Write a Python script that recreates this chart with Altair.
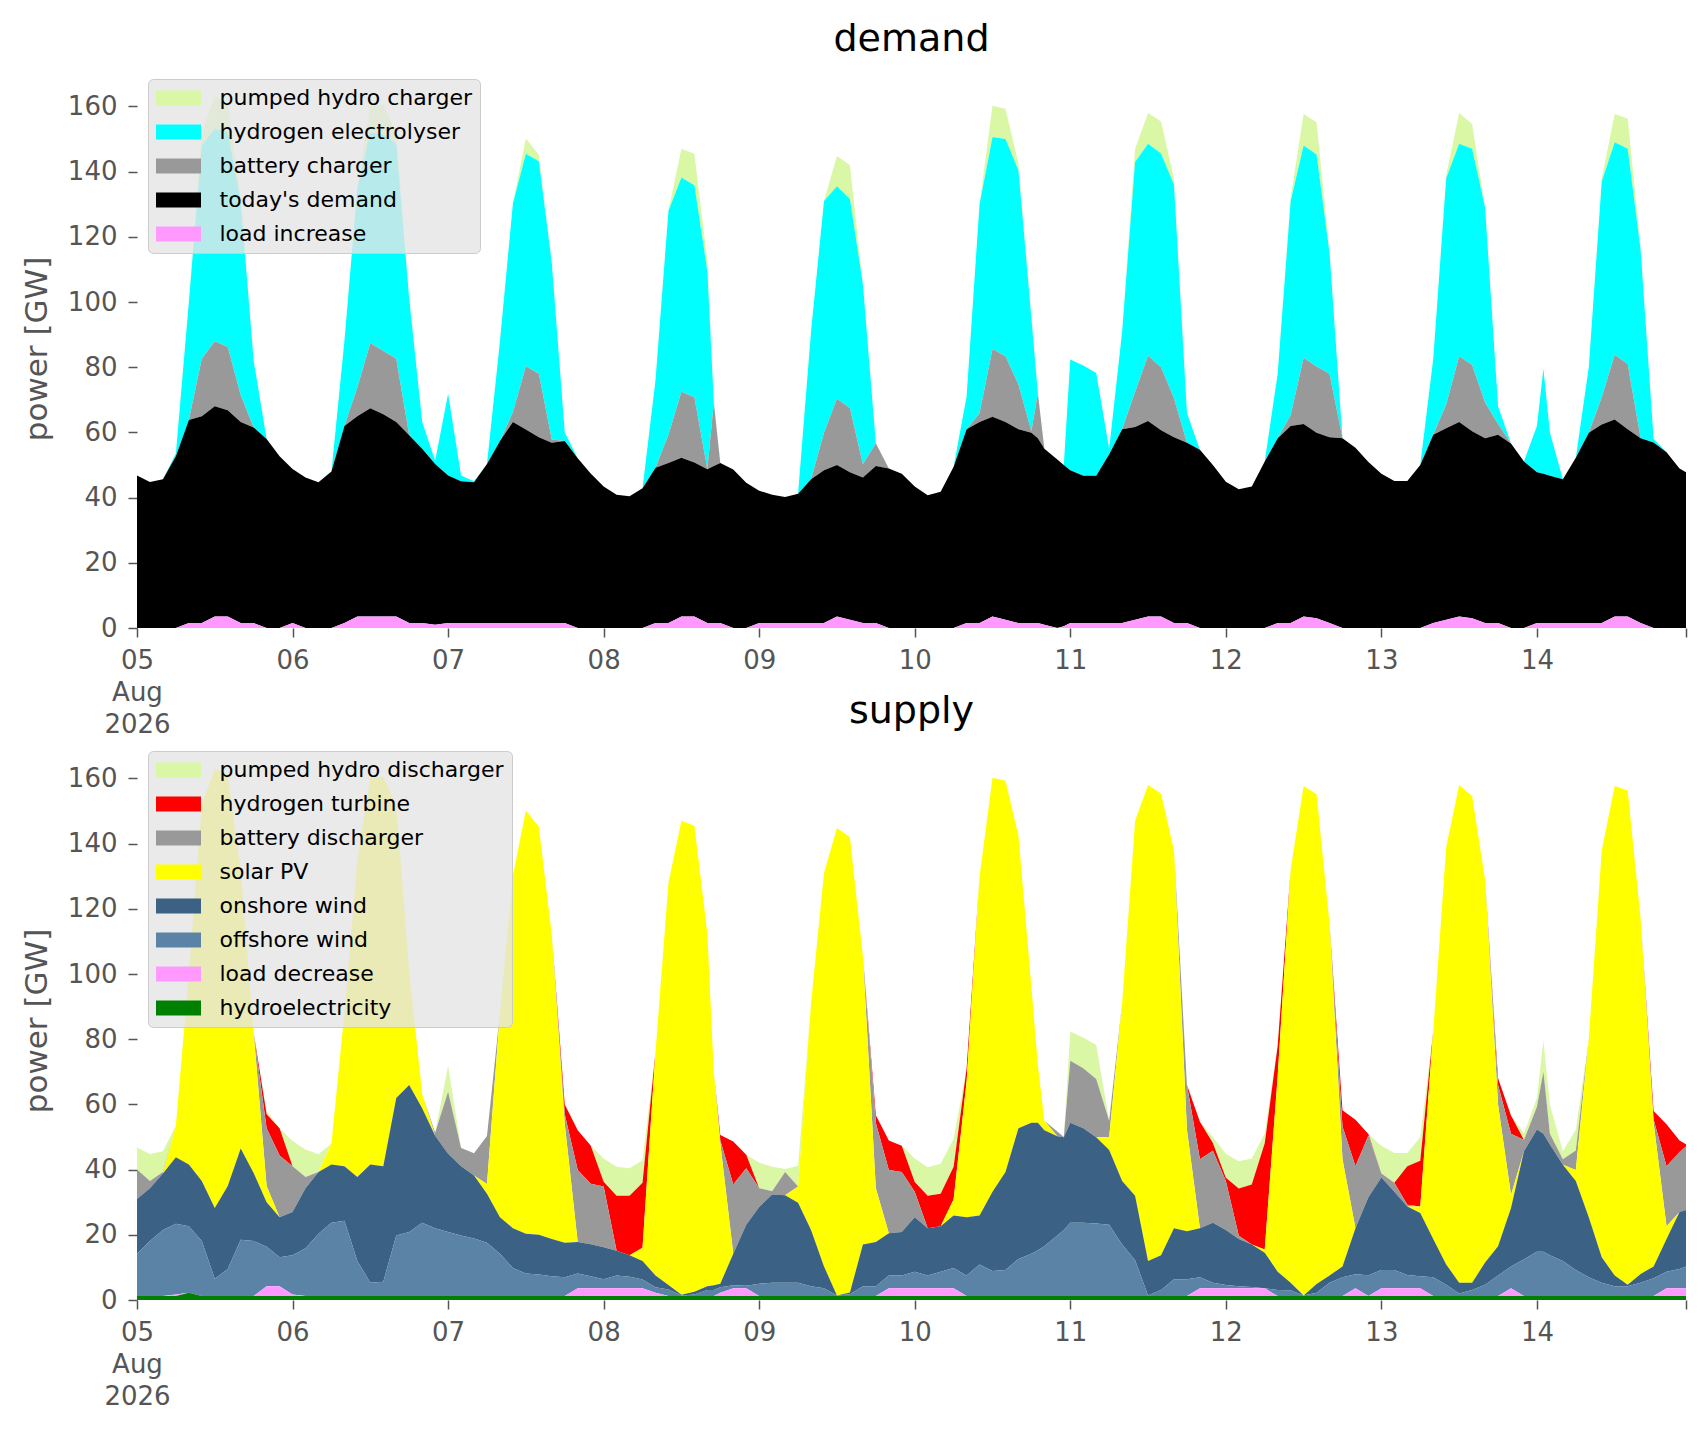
import altair as alt
import pandas as pd

# ---------------- data (GW), sampled every 2 h from 05 Aug 2026 00:00 UTC,
# with a few extra hourly readings (08 Aug 17:00, 10 Aug 19:00 & 23:00, 14 Aug 01:00 & 23:00) ----------------
regular = list(range(0, 24, 2))
day_hours = {
    3: [0, 2, 4, 6, 8, 10, 12, 14, 16, 17, 18, 20, 22],
    5: [0, 2, 4, 6, 8, 10, 12, 14, 16, 18, 19, 20, 22, 23],
    9: [0, 1, 2, 4, 6, 8, 10, 12, 14, 16, 18, 20, 22, 23],
}
sample_hours = [d * 24 + h for d in range(10) for h in day_hours.get(d, regular)]

# demand side
load_increase = [
    0, 0, 0, 0, 1.5, 1.5, 3.5, 3.5, 1.5, 1.5, 0, 0,
    1.5, 0, 0, 0, 1.5, 3.5, 3.5, 3.5, 3.5, 1.5, 1.5, 1,
    1.5, 1.5, 1.5, 1.5, 1.5, 1.5, 1.5, 1.5, 1.5, 1.5, 0, 0,
    0, 0, 0, 0, 1.5, 1.5, 3.5, 3.5, 1.5, 1.5, 1.5, 0, 0,
    1.5, 1.5, 1.5, 1.5, 1.5, 1.5, 3.5, 2.5, 1.5, 1.5, 0, 0,
    0, 0, 0, 0, 1.5, 1.5, 3.5, 2.5, 1.5, 1.5, 1.5, 1, 0, 0.5,
    1.5, 1.5, 1.5, 1.5, 1.5, 2.5, 3.5, 3.5, 1.5, 1.5, 0, 0,
    0, 0, 0, 0, 1.5, 1.5, 3.5, 3, 1.5, 0, 0, 0,
    0, 0, 0, 0, 1.5, 2.5, 3.5, 3, 1.5, 1.5, 0, 0,
    1.5, 1.5, 1.5, 1.5, 1.5, 1.5, 1.5, 3.5, 3.5, 1.5, 0, 0, 0, 0,
]
todays_demand = [
    46.8, 44.8, 45.6, 52.7, 62.3, 63.5, 64.5, 63.3, 61.7, 60, 58, 52.7,
    47.3, 46.2, 44.7, 48, 60.5, 61.5, 63.9, 62.1, 59.7, 57.6, 53.5, 49.3,
    45.3, 43.5, 43.2, 48.8, 55.9, 61.7, 59.4, 57, 55.3, 55.9, 52.1, 47.4,
    43.4, 40.9, 40.4, 42.9, 47.7, 49.1, 48.7, 47.3, 47.2, 48.2, 49.1, 48.6, 44.6,
    40.6, 39.4, 38.7, 39.7, 44.1, 46.9, 46.5, 45.3, 44.7, 48.2, 48.9, 47.3,
    43.4, 40.7, 41.8, 49.5, 59.5, 61.7, 61.3, 60.7, 59.5, 58.4, 56.7, 54, 51.7, 49.5,
    46.9, 45.2, 45.2, 51.8, 59.5, 59.2, 60, 57.2, 57, 55.3, 54.7, 50,
    44.9, 42.6, 43.4, 51.1, 56.7, 60.5, 59.1, 56.9, 57, 58.2, 55.3, 50.9,
    47.3, 45.1, 45.1, 50, 57.8, 58.8, 59.7, 57.4, 56.7, 57.8, 56.6, 51.1,
    46.3, 45.8, 45.2, 44.1, 50.7, 58.4, 60.9, 60.5, 57.5, 56.7, 56.9, 53.9, 48.9, 47.8,
]
battery_charger = [
    0, 0, 0, 0, 0, 17.6, 20, 19.4, 8.3, 0, 0, 0,
    0, 0, 0, 0, 0, 8.8, 20, 19.4, 19.4, 0, 0, 0,
    0, 0, 0, 0, 0, 3, 19.4, 19.5, 1, 0, 0, 0,
    0, 0, 0, 0, 0, 8.7, 20.3, 20, 0, 19.5, 0, 0, 0,
    0, 0, 0, 0, 0, 11.5, 20.3, 19.7, 4, 7, 0, 0,
    0, 0, 0, 0, 0, 2.7, 20.8, 20.2, 13.7, 0.5, 13.8, 0, 0, 0,
    0, 0, 0, 0, 0, 10.8, 20, 19.3, 12, 0, 0, 0,
    0, 0, 0, 0, 0, 3.3, 20.3, 20.3, 19.5, 0, 0, 0,
    0, 0, 0, 0, 0, 7.3, 20.2, 20.3, 11, 3.3, 0, 0,
    0, 0, 0, 0, 0, 0, 8.4, 19.8, 20, 0, 0, 0, 0, 0,
]
hydrogen_electrolyser = [
    0, 0, 0, 0.8, 36.2, 65.4, 65.2, 66, 59.5, 20.5, 0, 0,
    0, 0, 0, 0, 26, 61.2, 64.6, 66.4, 66, 41.9, 8.3, 1,
    25.1, 1.8, 0.3, 0, 30.6, 64, 65.2, 65.2, 54.2, 2.6, 0, 0,
    0, 0, 0, 0, 26.8, 68.7, 65.7, 65, 60.8, 0, 0, 0, 0,
    0, 0, 0, 0, 45.4, 71.1, 65.2, 64.1, 55.3, 0, 0, 0,
    0, 0, 0, 0, 10, 64.1, 65, 66.6, 65.7, 34.6, 0, 0, 0, 0,
    34, 33.8, 31.5, 1.7, 30, 70.5, 65.1, 65.6, 65.5, 9.2, 0, 0,
    0, 0, 0, 0, 19.8, 65.7, 65.1, 65.1, 37, 0, 0, 0,
    0, 0, 0, 0, 23.2, 69.4, 65.2, 66.3, 59.8, 5.4, 0, 0,
    14.2, 32.2, 13.3, 0, 0, 20.1, 66.2, 65.2, 66, 57.8, 1.1, 0, 0, 0,
]
pumped_hydro_charger = [
    0, 0, 0, 0, 0, 4, 9.8, 8.8, 1, 0, 0, 0,
    0, 0, 0, 0, 0, 0, 8.2, 9.2, 3, 0, 0, 0,
    0, 0, 0, 0, 0, 0, 4.7, 2, 0, 0, 0, 0,
    0, 0, 0, 0, 0, 0, 8.8, 9.7, 3, 0.5, 0, 0, 0,
    0, 0, 0, 0, 0, 0, 9.3, 10.4, 0, 0, 0, 0,
    0, 0, 0, 0, 0, 0, 9.6, 9.3, 2.2, 1, 0, 0, 0, 0,
    0, 0, 0, 0, 0, 4, 9.4, 9.8, 2, 0, 0, 0,
    0, 0, 0, 0, 0, 1, 9.7, 9.9, 0.5, 0, 0, 0,
    0, 0, 0, 0, 0, 1, 9.4, 7.6, 0, 0, 0, 0,
    0, 0, 0, 0, 0, 0, 1, 8.7, 9.3, 1, 0, 0, 0, 0,
]

# supply side
hydroelectricity = [1.2] * 4 + [2.2] + [1.2] * 120
load_decrease = [
    0, 0, 0, 0.5, 0, 0, 0, 0, 0, 0, 3, 3,
    0.5, 0, 0, 0, 0, 0, 0, 0, 0, 0, 0, 0,
    0, 0, 0, 0, 0, 0, 0, 0, 0, 0, 2.4, 2.4,
    2.4, 2.4, 2.4, 2.4, 1, 0, 0, 0, 0, 0, 1, 2.4, 2.4,
    0, 0, 0, 0, 0, 0, 0, 0, 0, 0, 2.4, 2.4,
    2.4, 2.4, 2.4, 2.4, 0, 0, 0, 0, 0, 0, 0, 0, 0, 0,
    0, 0, 0, 0, 0, 0, 0, 0, 0, 0, 2.4, 2.4,
    2.4, 2.4, 2.4, 2.4, 0, 0, 0, 0, 0, 0, 2.4, 0,
    2.4, 2.4, 2.4, 2.4, 0, 0, 0, 0, 0, 0, 2.4, 0,
    0, 0, 0, 0, 0, 0, 0, 0, 0, 0, 0, 2.4, 2.4, 2.4,
]
offshore_wind = [
    13, 16.9, 20.3, 21.7, 20.4, 16.9, 5.3, 8.3, 17.3, 16.9, 12.1, 8.9,
    12, 14.7, 19.1, 22.5, 23.1, 10.8, 4.1, 4.4, 18.6, 19.7, 22.5, 20.8,
    19.7, 18.6, 17.7, 16.4, 13, 8.6, 6.9, 6.6, 6.1, 5.8, 4.5, 3.7,
    2.8, 3.9, 3.5, 2.7, 1.7, 2, 0.2, 0.5, 1.9, 1.9, 1.7, 0.9, 0.8,
    3.8, 4.1, 4.1, 4.1, 3, 2.4, 0.2, 0.6, 3, 3, 3.9, 3.9,
    5.1, 3.9, 5.1, 6.2, 6.3, 9.7, 7.7, 8, 11.4, 13, 14.1, 15.3, 18.6, 20.3,
    22.5, 22.5, 22.3, 21.9, 15.8, 11, 0.2, 1.9, 5.2, 5.2, 3.4, 1.7,
    1, 0.6, 0.4, 0, 1.9, 1.8, 0.2, 1, 4.1, 5.8, 4.3, 6.4,
    5.6, 5.6, 4.1, 3.7, 5.8, 3.5, 0.8, 1.9, 3.5, 6.3, 6.7, 11.3,
    13.6, 13.6, 12.5, 10.8, 8, 5.8, 4.1, 3, 3, 4.1, 5.5, 5.1, 5.9, 6.7,
]
onshore_wind = [
    16.8, 16.2, 17.3, 20.4, 19, 18.4, 21.7, 25.5, 28, 20.9, 13.7, 12.3,
    13.3, 18.4, 19, 17.9, 16.7, 25.7, 36.3, 35.4, 42.2, 45.1, 35.1, 28.4,
    24, 21.2, 19.3, 15, 11.2, 12.2, 12.2, 12.2, 11.4, 10.6, 9.7, 9.8,
    9.8, 7.6, 6.6, 5.7, 3.6, 1.4, 0.2, 0.8, 1.1, 1.4, 1.1, 9.7, 18.7,
    23.5, 27.1, 26.8, 24.5, 17.3, 6.7, 0, 0.5, 12.8, 13.6, 13, 13.4,
    16.7, 14.5, 13.9, 16.1, 17.9, 15, 24.3, 30.1, 40.1, 40.2, 39.1, 35.6, 30.4, 28.4,
    30.7, 29, 26.4, 22.9, 19.5, 19.8, 10.6, 10.6, 15.6, 14.7, 15, 18.4,
    16.9, 14.5, 13, 10.9, 5.6, 2.3, 0, 2.7, 2.2, 3.3, 14.1, 23.9,
    28.4, 24, 21, 19.4, 11.7, 6.2, 3.3, 2.2, 6.8, 9, 17.9, 33.1,
    37.5, 36.2, 34, 29.5, 27.3, 18.4, 7.8, 3.3, 0.5, 2.7, 3.6, 10, 17.5, 17.3,
]
solar_pv = [
    0, 0, 0, 9.7, 58.4, 115.5, 134.8, 126, 85.5, 43, 5, 0,
    0, 0, 0, 6.4, 47, 97.3, 118.6, 119.6, 89.6, 35, 4.5, 0,
    0, 0, 0, 3, 62.6, 108.2, 129.9, 125.2, 93.3, 36.4, 0, 0,
    0, 0, 0, 4, 68.5, 123.4, 145.4, 143, 108.3, 65.2, 43, 0, 0,
    0, 0, 0, 5, 69.5, 120.7, 143.4, 139.7, 88.5, 16.5, 0, 0,
    0, 0, 0, 5, 41.6, 104.1, 127, 120, 89.9, 41.6, 17.6, 2.9, 0, 0,
    0, 0, 0, 4, 54.5, 115, 146, 141.7, 116, 31.1, 0, 0,
    0, 0, 0, 1, 60, 126.7, 156.3, 150.3, 108, 32.9, 0, 0,
    0, 0, 0, 2, 63.8, 128.1, 152.7, 149.3, 117.5, 43.5, 4, 0,
    0, 0, 0, 0, 3.4, 54.6, 124.9, 150.2, 151.6, 109, 44.1, 3.9, 0, 0,
]
battery_discharger = [
    9, 2.2, 0.5, 0, 0, 0, 0, 0, 0, 0, 17.7, 18.9,
    14, 3.4, 0, 0, 0, 0, 0, 0, 0, 0, 0, 0.9,
    19, 5.6, 6.8, 14.7, 0, 0, 0, 0, 0, 3, 22.1, 18.6,
    18.6, 0, 0, 0, 0, 0, 0, 0, 0, 0, 1, 21.2, 17.3,
    5.8, 1, 7.2, 0, 0, 0, 0, 0, 0, 20, 19.4, 18.4,
    7.8, 0, 0, 0, 0, 0, 0, 0, 0, 0, 0, 0, 1.5, 0.1,
    19, 18.4, 17.9, 5, 0, 0, 0, 0, 0, 13.8, 21.2, 22.1,
    15, 1, 0, 0, 0, 0, 0, 0, 0, 10, 19, 19,
    1.2, 2.8, 0.5, 0, 0, 0, 0, 0, 0, 6, 18.8, 3.5,
    7, 19, 3.3, 1.7, 6, 0, 0, 0, 0, 0, 1, 18.4, 18.4, 19.5,
]
hydrogen_turbine = [
    0, 0, 0, 0, 0, 0, 0, 0, 0, 0, 4.3, 8.4,
    0, 0, 0, 0, 0, 0, 0, 0, 0, 0, 0, 0,
    0, 0, 0, 0, 0, 0, 0, 0, 0, 3, 12.2, 11.7,
    1.5, 16.9, 18.3, 20, 0, 0, 0, 0, 0, 0, 1.6, 13.2, 4.2,
    0, 0, 0, 0, 0, 0, 0, 0, 0, 2.4, 9, 8,
    3, 10, 10, 10, 4, 0, 0, 0, 0, 0, 0, 0, 0, 0,
    0, 0, 0, 0, 0, 0, 0, 0, 0, 0, 11.5, 2.4,
    1, 14.5, 18.4, 32.6, 9.3, 0, 0, 0, 0, 5, 14.3, 0.4,
    0, 0, 11.8, 14, 0, 0, 0, 0, 0, 2, 5.6, 0,
    0, 0, 0, 0, 0, 0, 0, 0, 0, 0, 2.6, 12.9, 3.5, 0.7,
]
pumped_hydro_discharger = [
    6.8, 8.3, 6.3, 0, 0, 0, 0, 0, 0, 0, 1, 0,
    7.8, 8.5, 5.4, 0, 0, 0, 0, 0, 0, 0, 0, 0,
    8, 0.2, 0, 0, 0, 0, 0, 0, 0, 0, 0, 0,
    7.1, 8.9, 8.4, 6.9, 0, 0, 0, 0, 0, 0, 0, 0, 0,
    7.8, 7.5, 0.9, 6.4, 0, 0, 0, 0, 0, 0, 0, 0,
    7.2, 8.7, 9.2, 8.6, 0, 0, 0, 0, 0, 0, 0, 0, 0, 0,
    9, 9.4, 10.4, 0, 0, 0, 0, 0, 0, 0, 0, 1.8,
    7.4, 8.4, 8, 3, 0, 0, 0, 0, 0, 0, 0, 0,
    8.5, 9.1, 4.1, 7.3, 0, 0, 0, 0, 0, 0, 0, 2,
    2.7, 9.5, 9, 2.4, 6.3, 0, 0, 0, 0, 0, 0, 0, 0, 0,
]

# legend order (top of stack first) and colours
demand_names = ["pumped hydro charger", "hydrogen electrolyser", "battery charger", "today's demand", "load increase"]
demand_colors = ["#d9f7a5", "#00ffff", "#999999", "#000000", "#ff99ff"]
supply_names = ["pumped hydro discharger", "hydrogen turbine", "battery discharger", "solar PV",
                "onshore wind", "offshore wind", "load decrease", "hydroelectricity"]
supply_colors = ["#d9f7a5", "#ff0000", "#999999", "#ffff00", "#3b6184", "#5b83a5", "#ff99ff", "#008000"]

demand_series = [pumped_hydro_charger, hydrogen_electrolyser, battery_charger, todays_demand, load_increase]
supply_series = [pumped_hydro_discharger, hydrogen_turbine, battery_discharger, solar_pv,
                 onshore_wind, offshore_wind, load_decrease, hydroelectricity]

tick_days = [5, 6, 7, 8, 9, 10, 11, 12, 13, 14]
first_label = ["05", "Aug", "2026"]
y_ticks = [0, 20, 40, 60, 80, 100, 120, 140, 160]

# ---------------- build long tables ----------------
t0 = pd.Timestamp("2026-08-05 00:00:00")
times = [(t0 + pd.Timedelta(hours=h)).strftime("%Y-%m-%dT%H:%M:%SZ") for h in sample_hours]


def long_table(names, series):
    rows = []
    n = len(names)
    for i, (name, vals) in enumerate(zip(names, series)):
        assert len(vals) == len(times), (name, len(vals), len(times))
        for t, v in zip(times, vals):
            rows.append({"time": t, "series": name, "value": v, "rank": n - 1 - i})
    return pd.DataFrame(rows)


demand_df = long_table(demand_names, demand_series)
supply_df = long_table(supply_names, supply_series)

FONT = "DejaVu Sans"
GREY = "#555555"
legend_symbol = "M-3,-1L3,-1L3,1L-3,1Z"

x_start = alt.DateTime(year=2026, month=8, date=5, hours=0, utc=True)
x_end = alt.DateTime(year=2026, month=8, date=14, hours=23, utc=True)
x_scale = alt.Scale(type="utc", domain=[x_start, x_end], nice=False)
label_expr = ("utcFormat(datum.value, '%H') != '00' ? '' : (utcFormat(datum.value, '%d') == '"
              + first_label[0] + "' ? ['" + "', '".join(first_label)
              + "'] : utcFormat(datum.value, '%d'))")
x_axis = alt.Axis(
    values=[alt.DateTime(year=2026, month=8, date=d, utc=True) for d in tick_days] + [x_end],
    labelExpr=label_expr, grid=False, domain=False, tickSize=9, tickWidth=1.5,
    tickColor=GREY, labelColor=GREY, labelFontSize=26, labelFont=FONT,
    labelPadding=10, labelLineHeight=32, labelOverlap=False, labelFlush=False,
)
y_axis = alt.Axis(
    values=y_ticks, grid=False, domain=False, tickSize=9, tickWidth=1.5, tickColor=GREY,
    labelColor=GREY, labelFontSize=26, labelFont=FONT, labelPadding=11,
    titleFontSize=31, titleFont=FONT, titleFontWeight="normal", titleColor=GREY, titlePadding=14,
)


def panel(df, names, colors, title):
    legend = alt.Legend(
        orient="none", legendX=11, legendY=10, title=None,
        fillColor="rgba(229,229,229,0.8)", strokeColor="#cccccc", cornerRadius=5,
        padding=8, labelFontSize=22, labelFont=FONT, labelColor="#000000", labelLimit=500,
        symbolType=legend_symbol, symbolSize=225, symbolStrokeWidth=0, symbolOpacity=1,
        symbolOffset=11.5, rowPadding=12, labelOffset=30,
    )
    return alt.Chart(df).mark_area(interpolate="linear").encode(
        x=alt.X("time:T", scale=x_scale, axis=x_axis, title=None),
        y=alt.Y("value:Q", stack="zero", scale=alt.Scale(domain=[0, 171.5], nice=False),
                axis=y_axis, title="power [GW]"),
        color=alt.Color("series:N", scale=alt.Scale(domain=names, range=colors), legend=legend),
        order=alt.Order("rank:Q", sort="ascending"),
    ).properties(
        width=1549, height=559,
        title=alt.TitleParams(title, fontSize=38, font=FONT, fontWeight="normal", color="#000000",
                              anchor="middle", frame="group", baseline="alphabetic", offset=-20),
    )


top = panel(demand_df, demand_names, demand_colors, "demand")
bottom = panel(supply_df, supply_names, supply_colors, "supply")

chart = alt.vconcat(top, bottom, spacing=113, bounds="flush").resolve_scale(
    color="independent"
).properties(
    padding={"left": 12, "top": 12, "right": 5, "bottom": 5},
    background="#ffffff",
).configure(font=FONT).configure_view(stroke="transparent")

chart.save("out.html", embed_options={"renderer": "svg", "actions": False})
